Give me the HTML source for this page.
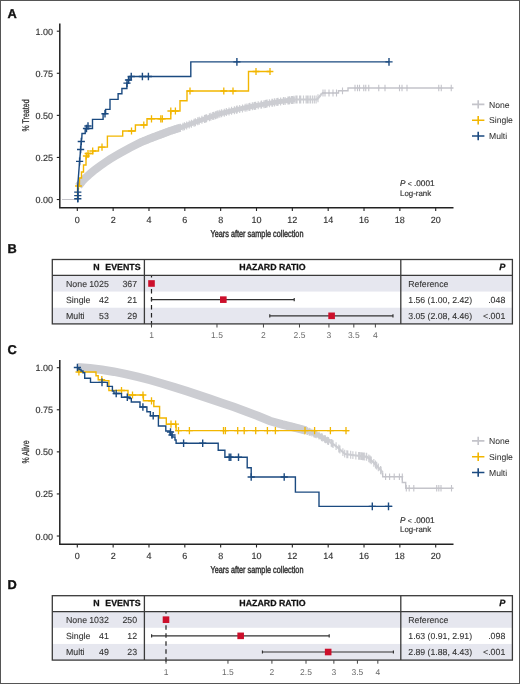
<!DOCTYPE html>
<html><head><meta charset="utf-8"><style>
html,body{margin:0;padding:0;background:#fff;overflow:hidden;}
svg{display:block;font-family:"Liberation Sans", sans-serif;will-change:transform;text-rendering:geometricPrecision;}

</style></head><body>
<svg width="520" height="684" viewBox="0 0 520 684">
<rect x="0" y="0" width="520" height="684" fill="#fff"/>
<text x="7.6" y="17.9" font-size="12.8" font-weight="bold" fill="#111" stroke="#111" stroke-width="0.35">A</text>
<path d="M59.8,23.4V207.8H453.5" fill="none" stroke="#222" stroke-width="1.5"/>
<path d="M56.8,31.20H59.8" stroke="#222" stroke-width="1.1"/>
<text x="53.0" y="34.70" font-size="9.0" text-anchor="end" font-weight="normal" font-style="normal" fill="#333" stroke="#333" stroke-width="0.15" >1.00</text>
<path d="M56.8,73.28H59.8" stroke="#222" stroke-width="1.1"/>
<text x="53.0" y="76.78" font-size="9.0" text-anchor="end" font-weight="normal" font-style="normal" fill="#333" stroke="#333" stroke-width="0.15" >0.75</text>
<path d="M56.8,115.36H59.8" stroke="#222" stroke-width="1.1"/>
<text x="53.0" y="118.86" font-size="9.0" text-anchor="end" font-weight="normal" font-style="normal" fill="#333" stroke="#333" stroke-width="0.15" >0.50</text>
<path d="M56.8,157.44H59.8" stroke="#222" stroke-width="1.1"/>
<text x="53.0" y="160.94" font-size="9.0" text-anchor="end" font-weight="normal" font-style="normal" fill="#333" stroke="#333" stroke-width="0.15" >0.25</text>
<path d="M56.8,199.52H59.8" stroke="#222" stroke-width="1.1"/>
<text x="53.0" y="203.02" font-size="9.0" text-anchor="end" font-weight="normal" font-style="normal" fill="#333" stroke="#333" stroke-width="0.15" >0.00</text>
<path d="M77.30,207.8V211.0" stroke="#222" stroke-width="1.1"/>
<text x="77.30" y="222.50" font-size="9.0" text-anchor="middle" font-weight="normal" font-style="normal" fill="#333" stroke="#333" stroke-width="0.15" >0</text>
<path d="M113.14,207.8V211.0" stroke="#222" stroke-width="1.1"/>
<text x="113.14" y="222.50" font-size="9.0" text-anchor="middle" font-weight="normal" font-style="normal" fill="#333" stroke="#333" stroke-width="0.15" >2</text>
<path d="M148.98,207.8V211.0" stroke="#222" stroke-width="1.1"/>
<text x="148.98" y="222.50" font-size="9.0" text-anchor="middle" font-weight="normal" font-style="normal" fill="#333" stroke="#333" stroke-width="0.15" >4</text>
<path d="M184.82,207.8V211.0" stroke="#222" stroke-width="1.1"/>
<text x="184.82" y="222.50" font-size="9.0" text-anchor="middle" font-weight="normal" font-style="normal" fill="#333" stroke="#333" stroke-width="0.15" >6</text>
<path d="M220.66,207.8V211.0" stroke="#222" stroke-width="1.1"/>
<text x="220.66" y="222.50" font-size="9.0" text-anchor="middle" font-weight="normal" font-style="normal" fill="#333" stroke="#333" stroke-width="0.15" >8</text>
<path d="M256.50,207.8V211.0" stroke="#222" stroke-width="1.1"/>
<text x="256.50" y="222.50" font-size="9.0" text-anchor="middle" font-weight="normal" font-style="normal" fill="#333" stroke="#333" stroke-width="0.15" >10</text>
<path d="M292.34,207.8V211.0" stroke="#222" stroke-width="1.1"/>
<text x="292.34" y="222.50" font-size="9.0" text-anchor="middle" font-weight="normal" font-style="normal" fill="#333" stroke="#333" stroke-width="0.15" >12</text>
<path d="M328.18,207.8V211.0" stroke="#222" stroke-width="1.1"/>
<text x="328.18" y="222.50" font-size="9.0" text-anchor="middle" font-weight="normal" font-style="normal" fill="#333" stroke="#333" stroke-width="0.15" >14</text>
<path d="M364.02,207.8V211.0" stroke="#222" stroke-width="1.1"/>
<text x="364.02" y="222.50" font-size="9.0" text-anchor="middle" font-weight="normal" font-style="normal" fill="#333" stroke="#333" stroke-width="0.15" >16</text>
<path d="M399.86,207.8V211.0" stroke="#222" stroke-width="1.1"/>
<text x="399.86" y="222.50" font-size="9.0" text-anchor="middle" font-weight="normal" font-style="normal" fill="#333" stroke="#333" stroke-width="0.15" >18</text>
<path d="M435.70,207.8V211.0" stroke="#222" stroke-width="1.1"/>
<text x="435.70" y="222.50" font-size="9.0" text-anchor="middle" font-weight="normal" font-style="normal" fill="#333" stroke="#333" stroke-width="0.15" >20</text>
<text transform="translate(257,236.8) scale(0.744,1)" font-size="9.8" text-anchor="middle" fill="#333" stroke="#333" stroke-width="0.45">Years after sample collection</text>
<text transform="translate(29.0,115.5) rotate(-90) scale(0.72,1)" font-size="9.8" text-anchor="middle" fill="#333" stroke="#333" stroke-width="0.3">% Treated</text>
<text x="400" y="186.4" font-size="8.2" fill="#333" stroke="#333" stroke-width="0.2"><tspan font-style="italic">P</tspan> <tspan font-size="6.8">&lt;</tspan> .0001</text>
<text x="400" y="195.6" font-size="7.9" text-anchor="start" font-weight="normal" font-style="normal" fill="#333" stroke="#333" stroke-width="0.15" >Log-rank</text>
<path d="M472,104.40H484.4M478.2,100.20V108.60" stroke="#c4c4ca" stroke-width="1.6" fill="none"/>
<text x="489" y="107.50" font-size="8.6" text-anchor="start" font-weight="normal" font-style="normal" fill="#333" stroke="#333" stroke-width="0.05" >None</text>
<path d="M472,120.20H484.4M478.2,116.00V124.40" stroke="#f2b600" stroke-width="1.6" fill="none"/>
<text x="489" y="123.30" font-size="8.6" text-anchor="start" font-weight="normal" font-style="normal" fill="#333" stroke="#333" stroke-width="0.05" >Single</text>
<path d="M472,136.00H484.4M478.2,131.80V140.20" stroke="#1b4a80" stroke-width="1.6" fill="none"/>
<text x="489" y="139.10" font-size="8.6" text-anchor="start" font-weight="normal" font-style="normal" fill="#333" stroke="#333" stroke-width="0.05" >Multi</text>
<path d="M62,199.5H78" stroke="#c4c4ca" stroke-width="1"/>
<polyline points="78.50,186.30 80.00,184.10 83.00,180.50 86.00,177.50 90.00,173.80 95.00,169.70 100.00,166.00 105.00,162.50 110.00,159.20 115.00,156.10 120.00,153.20 130.00,147.70 140.00,142.60 150.00,138.50 160.00,134.70 170.00,131.00 180.00,127.80" fill="none" stroke="#cccdd2" stroke-width="8" stroke-linejoin="miter" stroke-linecap="butt" stroke-linejoin="round"/>
<polyline points="150.00,138.50 160.00,134.70 170.00,131.00 180.00,127.80 190.00,124.20 200.00,120.50 210.00,117.00 220.00,113.70 230.00,111.20 240.00,108.90 250.00,106.80 260.00,104.90 270.00,103.10 280.00,101.50 290.00,100.30 295.00,99.50" fill="none" stroke="#cccdd2" stroke-width="5" stroke-linejoin="miter" stroke-linecap="butt" stroke-linejoin="round"/>
<polyline points="295.00,99.50 317.00,99.50 320.00,96.00 322.00,93.00" fill="none" stroke="#cccdd2" stroke-width="2.2" stroke-linejoin="miter" stroke-linecap="butt" stroke-linejoin="round"/>
<path d="M140.00,138.60V146.60M140.93,138.22V146.22M142.64,137.52V145.52M143.91,137.00V145.00M145.78,136.23V144.23M147.70,135.44V143.44M148.19,135.24V143.24M148.54,135.10V143.10M151.00,134.12V142.12M151.99,133.75V141.75M152.91,133.40V141.40M155.78,132.31V140.31M157.30,131.73V139.73M159.76,130.79V138.79M161.30,130.22V138.22M163.26,129.50V137.50M163.96,129.23V137.23M165.91,128.51V136.51M168.45,127.57V135.57M170.11,126.97V134.97M172.33,126.26V134.26M174.36,125.60V133.60M174.85,125.45V133.45M177.11,124.72V132.72M178.94,124.14V132.14M180.03,123.79V131.79M180.43,123.64V131.64M182.97,122.73V130.73M184.50,122.18V130.18M186.66,121.40V129.40M189.23,120.48V128.48M191.38,119.69V127.69M194.06,118.70V126.70M195.39,118.21V126.21M197.76,117.33V125.33M199.22,116.79V124.79M201.93,115.82V123.82M204.50,114.92V122.92M205.07,114.73V122.73M205.74,114.49V122.49M206.61,114.19V122.19M209.41,113.21V121.21M210.84,112.72V120.72M212.77,112.09V120.09M213.86,111.73V119.73M215.48,111.19V119.19M216.78,110.76V118.76M218.00,110.36V118.36M219.82,109.76V117.76M221.63,109.29V117.29M224.27,108.63V116.63M226.34,108.12V116.12M229.03,107.44V115.44M231.55,106.84V114.84M234.40,106.19V114.19M236.44,105.72V113.72M237.18,105.55V113.55M239.70,104.97V112.97M242.49,104.38V112.38M245.13,103.82V111.82M246.90,103.45V111.45M249.05,103.00V111.00M249.91,102.82V110.82M252.36,102.35V110.35M254.15,102.01V110.01M255.20,101.81V109.81M255.68,101.72V109.72M258.19,101.24V109.24M261.04,100.71V108.71M261.59,100.61V108.61M263.96,100.19V108.19M265.33,99.94V107.94M266.03,99.81V107.81M267.11,99.62V107.62M269.39,99.21V107.21M271.95,98.79V106.79M272.38,98.72V106.72M274.28,98.42V106.42M274.71,98.35V106.35M276.87,98.00V106.00M278.04,97.81V105.81M280.61,97.43V105.43M283.44,97.09V105.09M285.06,96.89V104.89M287.93,96.55V104.55M289.05,96.41V104.41M289.56,96.35V104.35M291.42,96.07V104.07M291.82,96.01V104.01M292.64,95.88V103.88M294.01,95.66V103.66M295.89,95.50V103.50M296.61,95.50V103.50M297.04,95.50V103.50M299.58,95.50V103.50M300.70,95.50V103.50M303.48,95.50V103.50M306.09,95.50V103.50M307.38,95.50V103.50M308.88,95.50V103.50M310.53,95.50V103.50M312.50,95.50V103.50M314.34,95.50V103.50M316.10,95.50V103.50M318.00,94.33V102.33" stroke="#cccdd2" stroke-width="1.15" fill="none"/>
<polyline points="322.00,93.00 338.50,93.00 338.50,90.80 348.00,90.80 348.00,88.00 453.50,88.00" fill="none" stroke="#c4c4ca" stroke-width="1.4" stroke-linejoin="miter" />
<path d="M322.00,93.00H324.00M323.00,89.60V96.40" stroke="#c4c4ca" stroke-width="1.1" fill="none"/>
<path d="M324.00,93.00H326.00M325.00,89.60V96.40" stroke="#c4c4ca" stroke-width="1.1" fill="none"/>
<path d="M328.00,93.00H330.00M329.00,89.60V96.40" stroke="#c4c4ca" stroke-width="1.1" fill="none"/>
<path d="M332.00,93.00H334.00M333.00,89.60V96.40" stroke="#c4c4ca" stroke-width="1.1" fill="none"/>
<path d="M335.50,93.00H337.50M336.50,89.60V96.40" stroke="#c4c4ca" stroke-width="1.1" fill="none"/>
<path d="M341.50,90.80H343.50M342.50,87.40V94.20" stroke="#c4c4ca" stroke-width="1.1" fill="none"/>
<path d="M354.00,88.00H356.00M355.00,84.80V91.20" stroke="#c4c4ca" stroke-width="1.1" fill="none"/>
<path d="M356.50,88.00H358.50M357.50,84.80V91.20" stroke="#c4c4ca" stroke-width="1.1" fill="none"/>
<path d="M358.50,88.00H360.50M359.50,84.80V91.20" stroke="#c4c4ca" stroke-width="1.1" fill="none"/>
<path d="M362.75,88.00H364.75M363.75,84.80V91.20" stroke="#c4c4ca" stroke-width="1.1" fill="none"/>
<path d="M364.75,88.00H366.75M365.75,84.80V91.20" stroke="#c4c4ca" stroke-width="1.1" fill="none"/>
<path d="M367.75,88.00H369.75M368.75,84.80V91.20" stroke="#c4c4ca" stroke-width="1.1" fill="none"/>
<path d="M377.75,88.00H379.75M378.75,84.80V91.20" stroke="#c4c4ca" stroke-width="1.1" fill="none"/>
<path d="M384.00,88.00H386.00M385.00,84.80V91.20" stroke="#c4c4ca" stroke-width="1.1" fill="none"/>
<path d="M398.50,88.00H400.50M399.50,84.80V91.20" stroke="#c4c4ca" stroke-width="1.1" fill="none"/>
<path d="M401.00,88.00H403.00M402.00,84.80V91.20" stroke="#c4c4ca" stroke-width="1.1" fill="none"/>
<path d="M406.00,88.00H408.00M407.00,84.80V91.20" stroke="#c4c4ca" stroke-width="1.1" fill="none"/>
<path d="M437.75,88.00H439.75M438.75,84.80V91.20" stroke="#c4c4ca" stroke-width="1.1" fill="none"/>
<path d="M440.25,88.00H442.25M441.25,84.80V91.20" stroke="#c4c4ca" stroke-width="1.1" fill="none"/>
<path d="M450.25,88.00H452.25M451.25,84.80V91.20" stroke="#c4c4ca" stroke-width="1.1" fill="none"/>
<polyline points="77.50,199.50 77.50,186.00 79.50,186.00 79.50,178.00 81.50,178.00 81.50,172.00 83.50,172.00 83.50,165.00 86.00,165.00 86.00,157.00 88.50,157.00 88.50,153.50 92.70,153.50 92.70,151.00 98.50,151.00 98.50,147.10 107.40,147.10 107.40,136.10 122.70,136.10 122.70,131.00 135.40,131.00 135.40,125.00 147.00,125.00 147.00,118.80 170.80,118.80 170.80,111.00 180.00,111.00 180.00,100.80 187.00,100.80 187.00,91.00 248.50,91.00 248.50,71.50 270.50,71.50" fill="none" stroke="#f2b600" stroke-width="1.4" stroke-linejoin="miter" />
<path d="M75.10,186.00H81.90M78.50,182.40V189.60" stroke="#f2b600" stroke-width="1.3" fill="none"/>
<path d="M82.90,156.00H89.70M86.30,152.40V159.60" stroke="#f2b600" stroke-width="1.3" fill="none"/>
<path d="M84.60,153.50H91.40M88.00,149.90V157.10" stroke="#f2b600" stroke-width="1.3" fill="none"/>
<path d="M89.30,151.00H96.10M92.70,147.40V154.60" stroke="#f2b600" stroke-width="1.3" fill="none"/>
<path d="M98.60,147.10H105.40M102.00,143.50V150.70" stroke="#f2b600" stroke-width="1.3" fill="none"/>
<path d="M128.10,131.00H134.90M131.50,127.40V134.60" stroke="#f2b600" stroke-width="1.3" fill="none"/>
<path d="M140.40,125.00H147.20M143.80,121.40V128.60" stroke="#f2b600" stroke-width="1.3" fill="none"/>
<path d="M148.10,118.80H154.90M151.50,115.20V122.40" stroke="#f2b600" stroke-width="1.3" fill="none"/>
<path d="M157.40,118.80H164.20M160.80,115.20V122.40" stroke="#f2b600" stroke-width="1.3" fill="none"/>
<path d="M158.90,118.80H165.70M162.30,115.20V122.40" stroke="#f2b600" stroke-width="1.3" fill="none"/>
<path d="M167.40,111.00H174.20M170.80,107.40V114.60" stroke="#f2b600" stroke-width="1.3" fill="none"/>
<path d="M172.00,111.00H178.80M175.40,107.40V114.60" stroke="#f2b600" stroke-width="1.3" fill="none"/>
<path d="M186.60,91.00H193.40M190.00,87.40V94.60" stroke="#f2b600" stroke-width="1.3" fill="none"/>
<path d="M220.40,91.00H227.20M223.80,87.40V94.60" stroke="#f2b600" stroke-width="1.3" fill="none"/>
<path d="M229.60,91.00H236.40M233.00,87.40V94.60" stroke="#f2b600" stroke-width="1.3" fill="none"/>
<path d="M252.60,71.50H259.40M256.00,67.90V75.10" stroke="#f2b600" stroke-width="1.3" fill="none"/>
<path d="M266.60,71.50H273.40M270.00,67.90V75.10" stroke="#f2b600" stroke-width="1.3" fill="none"/>
<polyline points="77.80,202.00 77.80,185.00 79.60,161.40 80.60,149.50 81.30,141.50 81.80,138.50 82.00,133.50 85.20,133.50 85.20,128.50 92.50,128.50 92.50,119.40 103.10,119.40 103.10,113.75 105.60,113.75 105.60,109.40 110.00,109.40 110.00,99.40 118.10,99.40 118.10,93.75 121.90,93.75 121.90,88.50 126.90,88.50 126.90,83.10 128.50,83.10 128.50,80.00 130.00,80.00 130.00,76.50 190.80,76.50 190.80,61.90 389.00,61.90" fill="none" stroke="#1b4a80" stroke-width="1.4" stroke-linejoin="miter" />
<path d="M74.20,192.10H81.40M77.80,188.30V195.90" stroke="#1b4a80" stroke-width="1.4" fill="none"/>
<path d="M74.20,195.60H81.40M77.80,191.80V199.40" stroke="#1b4a80" stroke-width="1.4" fill="none"/>
<path d="M74.20,198.70H81.40M77.80,194.90V202.50" stroke="#1b4a80" stroke-width="1.4" fill="none"/>
<path d="M76.00,161.40H83.20M79.60,157.60V165.20" stroke="#1b4a80" stroke-width="1.4" fill="none"/>
<path d="M77.00,149.50H84.20M80.60,145.70V153.30" stroke="#1b4a80" stroke-width="1.4" fill="none"/>
<path d="M77.70,141.50H84.90M81.30,137.70V145.30" stroke="#1b4a80" stroke-width="1.4" fill="none"/>
<path d="M82.90,128.50H90.10M86.50,124.70V132.30" stroke="#1b4a80" stroke-width="1.4" fill="none"/>
<path d="M84.40,126.00H91.60M88.00,122.20V129.80" stroke="#1b4a80" stroke-width="1.4" fill="none"/>
<path d="M101.40,113.75H108.60M105.00,109.95V117.55" stroke="#1b4a80" stroke-width="1.4" fill="none"/>
<path d="M123.40,83.10H130.60M127.00,79.30V86.90" stroke="#1b4a80" stroke-width="1.4" fill="none"/>
<path d="M124.90,80.00H132.10M128.50,76.20V83.80" stroke="#1b4a80" stroke-width="1.4" fill="none"/>
<path d="M127.65,76.50H134.85M131.25,72.70V80.30" stroke="#1b4a80" stroke-width="1.4" fill="none"/>
<path d="M138.80,76.50H146.00M142.40,72.70V80.30" stroke="#1b4a80" stroke-width="1.4" fill="none"/>
<path d="M144.80,76.50H152.00M148.40,72.70V80.30" stroke="#1b4a80" stroke-width="1.4" fill="none"/>
<path d="M233.30,61.90H240.50M236.90,58.10V65.70" stroke="#1b4a80" stroke-width="1.4" fill="none"/>
<path d="M385.40,61.90H392.60M389.00,58.10V65.70" stroke="#1b4a80" stroke-width="1.4" fill="none"/>
<text x="7.6" y="252.9" font-size="12.8" font-weight="bold" fill="#111" stroke="#111" stroke-width="0.35">B</text>
<rect x="52.3" y="275.40" width="460.1" height="16.17" fill="#e6e7ef"/>
<rect x="52.3" y="307.73" width="460.1" height="16.17" fill="#e6e7ef"/>
<path d="M151.5,275.4V327.5" stroke="#222" stroke-width="1.2" stroke-dasharray="4.5 3.5" stroke-dashoffset="2.40"/>
<rect x="52.3" y="259.5" width="460.1" height="64.40" fill="none" stroke="#3a3a3a" stroke-width="1.3"/>
<path d="M52.3,275.4H512.4M144.4,259.5V323.9M400.8,259.5V323.9" stroke="#3a3a3a" stroke-width="1.3"/>
<text x="99.7" y="270.2" font-size="8.8" text-anchor="end" font-weight="bold" font-style="normal" fill="#111" stroke="#111" stroke-width="0.25" >N</text>
<text x="140.5" y="270.2" font-size="8.8" text-anchor="end" font-weight="bold" font-style="normal" fill="#111" stroke="#111" stroke-width="0.25" >EVENTS</text>
<text x="272.5" y="270.2" font-size="8.8" text-anchor="middle" font-weight="bold" font-style="normal" fill="#111" stroke="#111" stroke-width="0.25" >HAZARD RATIO</text>
<text x="505.3" y="270.2" font-size="9.2" text-anchor="end" font-weight="bold" font-style="italic" fill="#111" stroke="#111" stroke-width="0.25" >P</text>
<path d="M151.50,323.9V327.5" stroke="#444" stroke-width="1"/>
<text x="151.50" y="338.3" font-size="8.5" text-anchor="middle" font-weight="normal" font-style="normal" fill="#6a6a6a" stroke="#6a6a6a" stroke-width="0" >1</text>
<path d="M216.98,323.9V327.5" stroke="#444" stroke-width="1"/>
<text x="216.98" y="338.3" font-size="8.5" text-anchor="middle" font-weight="normal" font-style="normal" fill="#6a6a6a" stroke="#6a6a6a" stroke-width="0" >1.5</text>
<path d="M263.44,323.9V327.5" stroke="#444" stroke-width="1"/>
<text x="263.44" y="338.3" font-size="8.5" text-anchor="middle" font-weight="normal" font-style="normal" fill="#6a6a6a" stroke="#6a6a6a" stroke-width="0" >2</text>
<path d="M299.48,323.9V327.5" stroke="#444" stroke-width="1"/>
<text x="299.48" y="338.3" font-size="8.5" text-anchor="middle" font-weight="normal" font-style="normal" fill="#6a6a6a" stroke="#6a6a6a" stroke-width="0" >2.5</text>
<path d="M328.93,323.9V327.5" stroke="#444" stroke-width="1"/>
<text x="328.93" y="338.3" font-size="8.5" text-anchor="middle" font-weight="normal" font-style="normal" fill="#6a6a6a" stroke="#6a6a6a" stroke-width="0" >3</text>
<path d="M353.82,323.9V327.5" stroke="#444" stroke-width="1"/>
<text x="353.82" y="338.3" font-size="8.5" text-anchor="middle" font-weight="normal" font-style="normal" fill="#6a6a6a" stroke="#6a6a6a" stroke-width="0" >3.5</text>
<path d="M375.39,323.9V327.5" stroke="#444" stroke-width="1"/>
<text x="375.39" y="338.3" font-size="8.5" text-anchor="middle" font-weight="normal" font-style="normal" fill="#6a6a6a" stroke="#6a6a6a" stroke-width="0" >4</text>
<text x="66" y="286.58" font-size="8.8" text-anchor="start" font-weight="normal" font-style="normal" fill="#333" stroke="#333" stroke-width="0.1" >None</text>
<text x="108.8" y="286.58" font-size="8.8" text-anchor="end" font-weight="normal" font-style="normal" fill="#333" stroke="#333" stroke-width="0.1" >1025</text>
<text x="137.1" y="286.58" font-size="8.8" text-anchor="end" font-weight="normal" font-style="normal" fill="#333" stroke="#333" stroke-width="0.1" >367</text>
<text x="408.3" y="286.58" font-size="8.7" text-anchor="start" font-weight="normal" font-style="normal" fill="#333" stroke="#333" stroke-width="0.1" >Reference</text>
<rect x="148.20" y="280.18" width="6.6" height="6.6" fill="#cc0f2b"/>
<text x="66" y="302.75" font-size="8.8" text-anchor="start" font-weight="normal" font-style="normal" fill="#333" stroke="#333" stroke-width="0.1" >Single</text>
<text x="108.8" y="302.75" font-size="8.8" text-anchor="end" font-weight="normal" font-style="normal" fill="#333" stroke="#333" stroke-width="0.1" >42</text>
<text x="137.1" y="302.75" font-size="8.8" text-anchor="end" font-weight="normal" font-style="normal" fill="#333" stroke="#333" stroke-width="0.1" >21</text>
<text x="408.3" y="302.75" font-size="8.7" text-anchor="start" font-weight="normal" font-style="normal" fill="#333" stroke="#333" stroke-width="0.1" >1.56 (1.00, 2.42)</text>
<text x="505.3" y="302.75" font-size="8.8" text-anchor="end" font-weight="normal" font-style="normal" fill="#333" stroke="#333" stroke-width="0.1" >.048</text>
<path d="M151.50,299.65H294.23M151.50,298.05V301.25M294.23,298.05V301.25" stroke="#333" stroke-width="1.2" fill="none"/>
<rect x="220.02" y="296.35" width="6.6" height="6.6" fill="#cc0f2b"/>
<text x="66" y="318.92" font-size="8.8" text-anchor="start" font-weight="normal" font-style="normal" fill="#333" stroke="#333" stroke-width="0.1" >Multi</text>
<text x="108.8" y="318.92" font-size="8.8" text-anchor="end" font-weight="normal" font-style="normal" fill="#333" stroke="#333" stroke-width="0.1" >53</text>
<text x="137.1" y="318.92" font-size="8.8" text-anchor="end" font-weight="normal" font-style="normal" fill="#333" stroke="#333" stroke-width="0.1" >29</text>
<text x="408.3" y="318.92" font-size="8.7" text-anchor="start" font-weight="normal" font-style="normal" fill="#333" stroke="#333" stroke-width="0.1" >3.05 (2.08, 4.46)</text>
<text x="505.3" y="318.92" font-size="8.8" text-anchor="end" font-weight="normal" font-style="normal" fill="#333" stroke="#333" stroke-width="0.1" >&lt;.001</text>
<path d="M269.78,315.82H392.97M269.78,314.22V317.42M392.97,314.22V317.42" stroke="#333" stroke-width="1.2" fill="none"/>
<rect x="328.30" y="312.52" width="6.6" height="6.6" fill="#cc0f2b"/>
<text x="7.6" y="354.4" font-size="12.8" font-weight="bold" fill="#111" stroke="#111" stroke-width="0.35">C</text>
<path d="M59.8,359.9V544.3H453.5" fill="none" stroke="#222" stroke-width="1.5"/>
<path d="M56.8,367.70H59.8" stroke="#222" stroke-width="1.1"/>
<text x="53.0" y="371.20" font-size="9.0" text-anchor="end" font-weight="normal" font-style="normal" fill="#333" stroke="#333" stroke-width="0.15" >1.00</text>
<path d="M56.8,409.78H59.8" stroke="#222" stroke-width="1.1"/>
<text x="53.0" y="413.28" font-size="9.0" text-anchor="end" font-weight="normal" font-style="normal" fill="#333" stroke="#333" stroke-width="0.15" >0.75</text>
<path d="M56.8,451.86H59.8" stroke="#222" stroke-width="1.1"/>
<text x="53.0" y="455.36" font-size="9.0" text-anchor="end" font-weight="normal" font-style="normal" fill="#333" stroke="#333" stroke-width="0.15" >0.50</text>
<path d="M56.8,493.94H59.8" stroke="#222" stroke-width="1.1"/>
<text x="53.0" y="497.44" font-size="9.0" text-anchor="end" font-weight="normal" font-style="normal" fill="#333" stroke="#333" stroke-width="0.15" >0.25</text>
<path d="M56.8,536.02H59.8" stroke="#222" stroke-width="1.1"/>
<text x="53.0" y="539.52" font-size="9.0" text-anchor="end" font-weight="normal" font-style="normal" fill="#333" stroke="#333" stroke-width="0.15" >0.00</text>
<path d="M77.30,544.3V547.5" stroke="#222" stroke-width="1.1"/>
<text x="77.30" y="559.00" font-size="9.0" text-anchor="middle" font-weight="normal" font-style="normal" fill="#333" stroke="#333" stroke-width="0.15" >0</text>
<path d="M113.14,544.3V547.5" stroke="#222" stroke-width="1.1"/>
<text x="113.14" y="559.00" font-size="9.0" text-anchor="middle" font-weight="normal" font-style="normal" fill="#333" stroke="#333" stroke-width="0.15" >2</text>
<path d="M148.98,544.3V547.5" stroke="#222" stroke-width="1.1"/>
<text x="148.98" y="559.00" font-size="9.0" text-anchor="middle" font-weight="normal" font-style="normal" fill="#333" stroke="#333" stroke-width="0.15" >4</text>
<path d="M184.82,544.3V547.5" stroke="#222" stroke-width="1.1"/>
<text x="184.82" y="559.00" font-size="9.0" text-anchor="middle" font-weight="normal" font-style="normal" fill="#333" stroke="#333" stroke-width="0.15" >6</text>
<path d="M220.66,544.3V547.5" stroke="#222" stroke-width="1.1"/>
<text x="220.66" y="559.00" font-size="9.0" text-anchor="middle" font-weight="normal" font-style="normal" fill="#333" stroke="#333" stroke-width="0.15" >8</text>
<path d="M256.50,544.3V547.5" stroke="#222" stroke-width="1.1"/>
<text x="256.50" y="559.00" font-size="9.0" text-anchor="middle" font-weight="normal" font-style="normal" fill="#333" stroke="#333" stroke-width="0.15" >10</text>
<path d="M292.34,544.3V547.5" stroke="#222" stroke-width="1.1"/>
<text x="292.34" y="559.00" font-size="9.0" text-anchor="middle" font-weight="normal" font-style="normal" fill="#333" stroke="#333" stroke-width="0.15" >12</text>
<path d="M328.18,544.3V547.5" stroke="#222" stroke-width="1.1"/>
<text x="328.18" y="559.00" font-size="9.0" text-anchor="middle" font-weight="normal" font-style="normal" fill="#333" stroke="#333" stroke-width="0.15" >14</text>
<path d="M364.02,544.3V547.5" stroke="#222" stroke-width="1.1"/>
<text x="364.02" y="559.00" font-size="9.0" text-anchor="middle" font-weight="normal" font-style="normal" fill="#333" stroke="#333" stroke-width="0.15" >16</text>
<path d="M399.86,544.3V547.5" stroke="#222" stroke-width="1.1"/>
<text x="399.86" y="559.00" font-size="9.0" text-anchor="middle" font-weight="normal" font-style="normal" fill="#333" stroke="#333" stroke-width="0.15" >18</text>
<path d="M435.70,544.3V547.5" stroke="#222" stroke-width="1.1"/>
<text x="435.70" y="559.00" font-size="9.0" text-anchor="middle" font-weight="normal" font-style="normal" fill="#333" stroke="#333" stroke-width="0.15" >20</text>
<text transform="translate(257,573.3) scale(0.744,1)" font-size="9.8" text-anchor="middle" fill="#333" stroke="#333" stroke-width="0.45">Years after sample collection</text>
<text transform="translate(29.0,452.0) rotate(-90) scale(0.72,1)" font-size="9.8" text-anchor="middle" fill="#333" stroke="#333" stroke-width="0.3">% Alive</text>
<text x="400" y="522.9" font-size="8.2" fill="#333" stroke="#333" stroke-width="0.2"><tspan font-style="italic">P</tspan> <tspan font-size="6.8">&lt;</tspan> .0001</text>
<text x="400" y="532.1" font-size="7.9" text-anchor="start" font-weight="normal" font-style="normal" fill="#333" stroke="#333" stroke-width="0.15" >Log-rank</text>
<path d="M472,440.90H484.4M478.2,436.70V445.10" stroke="#c4c4ca" stroke-width="1.6" fill="none"/>
<text x="489" y="444.00" font-size="8.6" text-anchor="start" font-weight="normal" font-style="normal" fill="#333" stroke="#333" stroke-width="0.05" >None</text>
<path d="M472,456.70H484.4M478.2,452.50V460.90" stroke="#f2b600" stroke-width="1.6" fill="none"/>
<text x="489" y="459.80" font-size="8.6" text-anchor="start" font-weight="normal" font-style="normal" fill="#333" stroke="#333" stroke-width="0.05" >Single</text>
<path d="M472,472.50H484.4M478.2,468.30V476.70" stroke="#1b4a80" stroke-width="1.6" fill="none"/>
<text x="489" y="475.60" font-size="8.6" text-anchor="start" font-weight="normal" font-style="normal" fill="#333" stroke="#333" stroke-width="0.05" >Multi</text>
<polyline points="77.50,367.20 90.00,368.30 102.00,369.80 114.00,371.70 126.00,374.10 138.00,376.90 150.00,380.00 162.00,383.50 174.00,387.10 186.00,390.90 198.00,394.90 210.00,398.90 222.00,403.00 234.00,407.10 246.00,411.50 258.00,416.00 270.00,421.00 282.00,424.30 294.00,427.30 306.00,430.50" fill="none" stroke="#cccdd2" stroke-width="8.5" stroke-linejoin="miter" stroke-linecap="butt" stroke-linejoin="round"/>
<polyline points="282.00,424.30 294.00,427.30 306.00,430.50 318.00,435.00 330.00,442.00" fill="none" stroke="#cccdd2" stroke-width="5" stroke-linejoin="miter" stroke-linecap="butt" stroke-linejoin="round"/>
<polyline points="330.00,442.00 336.00,446.00 345.00,454.00 356.00,455.50 367.00,456.80 372.00,461.00 378.00,467.00 382.70,472.50" fill="none" stroke="#cccdd2" stroke-width="2.2" stroke-linejoin="miter" stroke-linecap="butt" stroke-linejoin="round"/>
<path d="M282.00,420.40V428.20M284.03,420.91V428.71M286.39,421.50V429.30M288.89,422.12V429.92M291.80,422.85V430.65M294.15,423.44V431.24M297.00,424.20V432.00M297.42,424.31V432.11M299.02,424.74V432.54M301.93,425.51V433.31M304.04,426.08V433.88M306.83,426.91V434.71M307.47,427.15V434.95M309.09,427.76V435.56M310.10,428.14V435.94M311.92,428.82V436.62M313.82,429.53V437.33M314.20,429.67V437.47M315.13,430.02V437.82M316.23,430.43V438.23M319.06,431.72V439.52M321.48,433.13V440.93M322.26,433.58V441.38M324.76,435.05V442.85M325.48,435.46V443.26M327.50,436.64V444.44M328.19,437.04V444.84M328.53,437.24V445.04M331.24,438.93V446.73M332.15,439.53V447.33M333.08,440.15V447.95M336.09,442.18V449.98M338.80,444.59V452.39M339.93,445.59V453.39M342.88,448.22V456.02M344.69,449.82V457.62M346.87,450.36V458.16M347.77,450.48V458.28M350.67,450.87V458.67M352.89,451.18V458.98M355.86,451.58V459.38M358.63,451.91V459.71M359.78,452.05V459.85M361.10,452.20V460.00M361.90,452.30V460.10M362.63,452.38V460.18M363.15,452.44V460.24M364.31,452.58V460.38M366.29,452.82V460.62M366.64,452.86V460.66M368.82,454.43V462.23M370.08,455.49V463.29M371.26,456.48V464.28M373.83,458.93V466.73M375.48,460.58V468.38M376.68,461.78V469.58M378.33,463.48V471.28M380.58,466.12V473.92M381.08,466.70V474.50" stroke="#cccdd2" stroke-width="1.15" fill="none"/>
<polyline points="382.70,472.50 382.70,476.70 402.30,476.70 402.30,482.50 405.70,482.50 405.70,488.30 453.60,488.30" fill="none" stroke="#c4c4ca" stroke-width="1.4" stroke-linejoin="miter" />
<path d="M384.60,476.70H386.60M385.60,473.50V479.90" stroke="#c4c4ca" stroke-width="1.1" fill="none"/>
<path d="M388.60,476.70H390.60M389.60,473.50V479.90" stroke="#c4c4ca" stroke-width="1.1" fill="none"/>
<path d="M393.20,476.70H395.20M394.20,473.50V479.90" stroke="#c4c4ca" stroke-width="1.1" fill="none"/>
<path d="M398.40,476.70H400.40M399.40,473.50V479.90" stroke="#c4c4ca" stroke-width="1.1" fill="none"/>
<path d="M401.30,476.70H403.30M402.30,473.50V479.90" stroke="#c4c4ca" stroke-width="1.1" fill="none"/>
<path d="M405.30,488.30H407.30M406.30,485.10V491.50" stroke="#c4c4ca" stroke-width="1.1" fill="none"/>
<path d="M408.20,488.30H410.20M409.20,485.10V491.50" stroke="#c4c4ca" stroke-width="1.1" fill="none"/>
<path d="M412.80,488.30H414.80M413.80,485.10V491.50" stroke="#c4c4ca" stroke-width="1.1" fill="none"/>
<path d="M435.70,488.30H437.70M436.70,485.10V491.50" stroke="#c4c4ca" stroke-width="1.1" fill="none"/>
<path d="M437.80,488.30H439.80M438.80,485.10V491.50" stroke="#c4c4ca" stroke-width="1.1" fill="none"/>
<path d="M440.00,488.30H442.00M441.00,485.10V491.50" stroke="#c4c4ca" stroke-width="1.1" fill="none"/>
<path d="M450.50,488.30H452.50M451.50,485.10V491.50" stroke="#c4c4ca" stroke-width="1.1" fill="none"/>
<polyline points="77.60,367.70 78.50,367.70 78.50,372.00 87.40,372.00 87.40,372.00 96.00,372.00 96.00,375.80 98.20,375.80 98.20,379.70 101.80,379.70 101.80,380.60 108.90,380.60 108.90,390.50 128.00,390.50 128.00,395.00 143.40,395.00 143.40,400.80 153.80,400.80 153.80,406.50 159.60,406.50 159.60,418.00 166.30,418.00 166.30,424.20 176.10,424.20 176.10,430.60 349.20,430.60" fill="none" stroke="#f2b600" stroke-width="1.4" stroke-linejoin="miter" />
<path d="M75.50,372.00H82.30M78.90,368.40V375.60" stroke="#f2b600" stroke-width="1.3" fill="none"/>
<path d="M98.40,379.70H105.20M101.80,376.10V383.30" stroke="#f2b600" stroke-width="1.3" fill="none"/>
<path d="M118.10,390.50H124.90M121.50,386.90V394.10" stroke="#f2b600" stroke-width="1.3" fill="none"/>
<path d="M129.10,395.00H135.90M132.50,391.40V398.60" stroke="#f2b600" stroke-width="1.3" fill="none"/>
<path d="M139.60,395.00H146.40M143.00,391.40V398.60" stroke="#f2b600" stroke-width="1.3" fill="none"/>
<path d="M148.10,400.80H154.90M151.50,397.20V404.40" stroke="#f2b600" stroke-width="1.3" fill="none"/>
<path d="M167.60,424.20H174.40M171.00,420.60V427.80" stroke="#f2b600" stroke-width="1.3" fill="none"/>
<path d="M172.20,424.20H179.00M175.60,420.60V427.80" stroke="#f2b600" stroke-width="1.3" fill="none"/>
<path d="M175.10,430.60H181.90M178.50,427.00V434.20" stroke="#f2b600" stroke-width="1.3" fill="none"/>
<path d="M186.00,430.60H192.80M189.40,427.00V434.20" stroke="#f2b600" stroke-width="1.3" fill="none"/>
<path d="M220.10,430.60H226.90M223.50,427.00V434.20" stroke="#f2b600" stroke-width="1.3" fill="none"/>
<path d="M222.00,430.60H228.80M225.40,427.00V434.20" stroke="#f2b600" stroke-width="1.3" fill="none"/>
<path d="M234.30,430.60H241.10M237.70,427.00V434.20" stroke="#f2b600" stroke-width="1.3" fill="none"/>
<path d="M240.80,430.60H247.60M244.20,427.00V434.20" stroke="#f2b600" stroke-width="1.3" fill="none"/>
<path d="M252.30,430.60H259.10M255.70,427.00V434.20" stroke="#f2b600" stroke-width="1.3" fill="none"/>
<path d="M264.00,430.60H270.80M267.40,427.00V434.20" stroke="#f2b600" stroke-width="1.3" fill="none"/>
<path d="M272.00,430.60H278.80M275.40,427.00V434.20" stroke="#f2b600" stroke-width="1.3" fill="none"/>
<path d="M301.60,430.60H308.40M305.00,427.00V434.20" stroke="#f2b600" stroke-width="1.3" fill="none"/>
<path d="M311.20,430.60H318.00M314.60,427.00V434.20" stroke="#f2b600" stroke-width="1.3" fill="none"/>
<path d="M327.00,430.60H333.80M330.40,427.00V434.20" stroke="#f2b600" stroke-width="1.3" fill="none"/>
<path d="M342.60,430.60H349.40M346.00,427.00V434.20" stroke="#f2b600" stroke-width="1.3" fill="none"/>
<polyline points="77.60,367.70 79.00,367.70 79.00,369.50 81.00,369.50 81.00,371.00 83.00,371.00 83.00,372.80 84.70,372.80 84.70,378.20 90.50,378.20 90.50,382.40 107.40,382.40 107.40,386.40 112.40,386.40 112.40,391.00 114.00,391.00 114.00,393.50 121.50,393.50 121.50,397.30 129.00,397.30 129.00,398.50 131.30,398.50 131.30,402.00 140.00,402.00 140.00,407.00 146.90,407.00 146.90,411.70 150.40,411.70 150.40,415.80 158.40,415.80 158.40,426.00 165.80,426.00 165.80,431.00 170.00,431.00 170.00,434.00 172.00,434.00 172.00,437.00 175.00,437.00 175.00,440.00 176.10,440.00 176.10,443.30 218.20,443.30 218.20,450.30 224.90,450.30 224.90,457.20 247.20,457.20 247.20,467.70 251.20,467.70 251.20,477.00 295.40,477.00 295.40,492.10 319.00,492.10 319.00,506.40 392.30,506.40" fill="none" stroke="#1b4a80" stroke-width="1.4" stroke-linejoin="miter" />
<path d="M73.80,367.50H81.00M77.40,363.70V371.30" stroke="#1b4a80" stroke-width="1.4" fill="none"/>
<path d="M98.40,382.40H105.60M102.00,378.60V386.20" stroke="#1b4a80" stroke-width="1.4" fill="none"/>
<path d="M112.60,393.50H119.80M116.20,389.70V397.30" stroke="#1b4a80" stroke-width="1.4" fill="none"/>
<path d="M123.70,397.30H130.90M127.30,393.50V401.10" stroke="#1b4a80" stroke-width="1.4" fill="none"/>
<path d="M139.30,407.00H146.50M142.90,403.20V410.80" stroke="#1b4a80" stroke-width="1.4" fill="none"/>
<path d="M149.60,415.80H156.80M153.20,412.00V419.60" stroke="#1b4a80" stroke-width="1.4" fill="none"/>
<path d="M166.90,432.00H174.10M170.50,428.20V435.80" stroke="#1b4a80" stroke-width="1.4" fill="none"/>
<path d="M168.40,435.00H175.60M172.00,431.20V438.80" stroke="#1b4a80" stroke-width="1.4" fill="none"/>
<path d="M180.00,443.30H187.20M183.60,439.50V447.10" stroke="#1b4a80" stroke-width="1.4" fill="none"/>
<path d="M199.10,443.30H206.30M202.70,439.50V447.10" stroke="#1b4a80" stroke-width="1.4" fill="none"/>
<path d="M225.60,457.20H232.80M229.20,453.40V461.00" stroke="#1b4a80" stroke-width="1.4" fill="none"/>
<path d="M227.20,457.20H234.40M230.80,453.40V461.00" stroke="#1b4a80" stroke-width="1.4" fill="none"/>
<path d="M234.90,457.20H242.10M238.50,453.40V461.00" stroke="#1b4a80" stroke-width="1.4" fill="none"/>
<path d="M247.60,477.00H254.80M251.20,473.20V480.80" stroke="#1b4a80" stroke-width="1.4" fill="none"/>
<path d="M280.60,477.00H287.80M284.20,473.20V480.80" stroke="#1b4a80" stroke-width="1.4" fill="none"/>
<path d="M368.70,506.40H375.90M372.30,502.60V510.20" stroke="#1b4a80" stroke-width="1.4" fill="none"/>
<path d="M384.90,506.40H392.10M388.50,502.60V510.20" stroke="#1b4a80" stroke-width="1.4" fill="none"/>
<text x="7.6" y="589.0" font-size="12.8" font-weight="bold" fill="#111" stroke="#111" stroke-width="0.35">D</text>
<rect x="52.3" y="611.60" width="460.1" height="16.17" fill="#e6e7ef"/>
<rect x="52.3" y="643.93" width="460.1" height="16.17" fill="#e6e7ef"/>
<path d="M166,611.5999999999999V663.6999999999999" stroke="#222" stroke-width="1.2" stroke-dasharray="4.5 3.5" stroke-dashoffset="2.40"/>
<rect x="52.3" y="595.7" width="460.1" height="64.40" fill="none" stroke="#3a3a3a" stroke-width="1.3"/>
<path d="M52.3,611.5999999999999H512.4M144.4,595.7V660.0999999999999M400.8,595.7V660.0999999999999" stroke="#3a3a3a" stroke-width="1.3"/>
<text x="99.7" y="606.4" font-size="8.8" text-anchor="end" font-weight="bold" font-style="normal" fill="#111" stroke="#111" stroke-width="0.25" >N</text>
<text x="140.5" y="606.4" font-size="8.8" text-anchor="end" font-weight="bold" font-style="normal" fill="#111" stroke="#111" stroke-width="0.25" >EVENTS</text>
<text x="272.5" y="606.4" font-size="8.8" text-anchor="middle" font-weight="bold" font-style="normal" fill="#111" stroke="#111" stroke-width="0.25" >HAZARD RATIO</text>
<text x="505.3" y="606.4" font-size="9.2" text-anchor="end" font-weight="bold" font-style="italic" fill="#111" stroke="#111" stroke-width="0.25" >P</text>
<path d="M166.00,660.0999999999999V663.6999999999999" stroke="#444" stroke-width="1"/>
<text x="166.00" y="674.5" font-size="8.5" text-anchor="middle" font-weight="normal" font-style="normal" fill="#6a6a6a" stroke="#6a6a6a" stroke-width="0" >1</text>
<path d="M227.96,660.0999999999999V663.6999999999999" stroke="#444" stroke-width="1"/>
<text x="227.96" y="674.5" font-size="8.5" text-anchor="middle" font-weight="normal" font-style="normal" fill="#6a6a6a" stroke="#6a6a6a" stroke-width="0" >1.5</text>
<path d="M271.91,660.0999999999999V663.6999999999999" stroke="#444" stroke-width="1"/>
<text x="271.91" y="674.5" font-size="8.5" text-anchor="middle" font-weight="normal" font-style="normal" fill="#6a6a6a" stroke="#6a6a6a" stroke-width="0" >2</text>
<path d="M306.01,660.0999999999999V663.6999999999999" stroke="#444" stroke-width="1"/>
<text x="306.01" y="674.5" font-size="8.5" text-anchor="middle" font-weight="normal" font-style="normal" fill="#6a6a6a" stroke="#6a6a6a" stroke-width="0" >2.5</text>
<path d="M333.87,660.0999999999999V663.6999999999999" stroke="#444" stroke-width="1"/>
<text x="333.87" y="674.5" font-size="8.5" text-anchor="middle" font-weight="normal" font-style="normal" fill="#6a6a6a" stroke="#6a6a6a" stroke-width="0" >3</text>
<path d="M357.42,660.0999999999999V663.6999999999999" stroke="#444" stroke-width="1"/>
<text x="357.42" y="674.5" font-size="8.5" text-anchor="middle" font-weight="normal" font-style="normal" fill="#6a6a6a" stroke="#6a6a6a" stroke-width="0" >3.5</text>
<path d="M377.83,660.0999999999999V663.6999999999999" stroke="#444" stroke-width="1"/>
<text x="377.83" y="674.5" font-size="8.5" text-anchor="middle" font-weight="normal" font-style="normal" fill="#6a6a6a" stroke="#6a6a6a" stroke-width="0" >4</text>
<text x="66" y="622.78" font-size="8.8" text-anchor="start" font-weight="normal" font-style="normal" fill="#333" stroke="#333" stroke-width="0.1" >None</text>
<text x="108.8" y="622.78" font-size="8.8" text-anchor="end" font-weight="normal" font-style="normal" fill="#333" stroke="#333" stroke-width="0.1" >1032</text>
<text x="137.1" y="622.78" font-size="8.8" text-anchor="end" font-weight="normal" font-style="normal" fill="#333" stroke="#333" stroke-width="0.1" >250</text>
<text x="408.3" y="622.78" font-size="8.7" text-anchor="start" font-weight="normal" font-style="normal" fill="#333" stroke="#333" stroke-width="0.1" >Reference</text>
<rect x="162.70" y="616.38" width="6.6" height="6.6" fill="#cc0f2b"/>
<text x="66" y="638.95" font-size="8.8" text-anchor="start" font-weight="normal" font-style="normal" fill="#333" stroke="#333" stroke-width="0.1" >Single</text>
<text x="108.8" y="638.95" font-size="8.8" text-anchor="end" font-weight="normal" font-style="normal" fill="#333" stroke="#333" stroke-width="0.1" >41</text>
<text x="137.1" y="638.95" font-size="8.8" text-anchor="end" font-weight="normal" font-style="normal" fill="#333" stroke="#333" stroke-width="0.1" >12</text>
<text x="408.3" y="638.95" font-size="8.7" text-anchor="start" font-weight="normal" font-style="normal" fill="#333" stroke="#333" stroke-width="0.1" >1.63 (0.91, 2.91)</text>
<text x="505.3" y="638.95" font-size="8.8" text-anchor="end" font-weight="normal" font-style="normal" fill="#333" stroke="#333" stroke-width="0.1" >.098</text>
<path d="M151.59,635.85H329.21M151.59,634.25V637.45M329.21,634.25V637.45" stroke="#333" stroke-width="1.2" fill="none"/>
<rect x="237.36" y="632.55" width="6.6" height="6.6" fill="#cc0f2b"/>
<text x="66" y="655.12" font-size="8.8" text-anchor="start" font-weight="normal" font-style="normal" fill="#333" stroke="#333" stroke-width="0.1" >Multi</text>
<text x="108.8" y="655.12" font-size="8.8" text-anchor="end" font-weight="normal" font-style="normal" fill="#333" stroke="#333" stroke-width="0.1" >49</text>
<text x="137.1" y="655.12" font-size="8.8" text-anchor="end" font-weight="normal" font-style="normal" fill="#333" stroke="#333" stroke-width="0.1" >23</text>
<text x="408.3" y="655.12" font-size="8.7" text-anchor="start" font-weight="normal" font-style="normal" fill="#333" stroke="#333" stroke-width="0.1" >2.89 (1.88, 4.43)</text>
<text x="505.3" y="655.12" font-size="8.8" text-anchor="end" font-weight="normal" font-style="normal" fill="#333" stroke="#333" stroke-width="0.1" >&lt;.001</text>
<path d="M262.46,652.02H393.43M262.46,650.42V653.62M393.43,650.42V653.62" stroke="#333" stroke-width="1.2" fill="none"/>
<rect x="324.86" y="648.72" width="6.6" height="6.6" fill="#cc0f2b"/>
<rect x="0.5" y="0.5" width="519" height="683" fill="none" stroke="#555" stroke-width="1"/>
</svg>
</body></html>
